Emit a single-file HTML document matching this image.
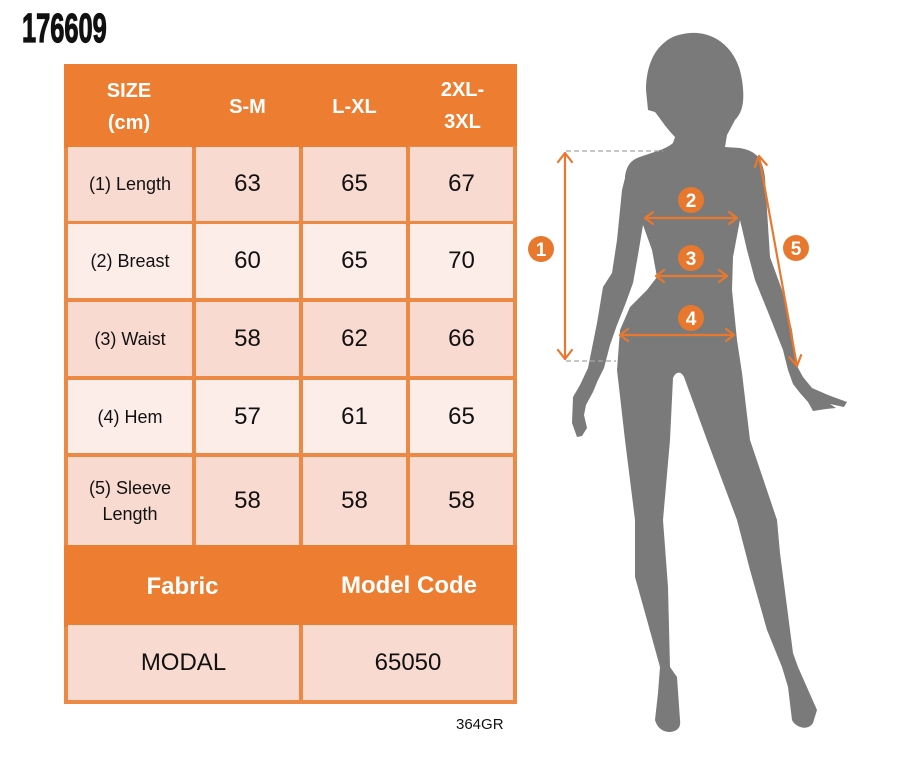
<!DOCTYPE html>
<html>
<head>
<meta charset="utf-8">
<style>
  html,body{margin:0;padding:0;background:#fff;}
  body{width:916px;height:774px;position:relative;overflow:hidden;font-family:"Liberation Sans",Arial,sans-serif;}
  .abs{position:absolute;}
  .title{position:absolute;left:22px;top:4px;font-size:41px;font-weight:bold;color:#111;transform:scaleX(0.62);transform-origin:0 0;letter-spacing:0;line-height:48px;-webkit-text-stroke:1.2px #111;}
  .grid{position:absolute;left:64px;top:64px;width:453px;height:640px;background:#EC8A45;}
  .cell{position:absolute;display:flex;align-items:center;justify-content:center;text-align:center;color:#111;}
  .hd{background:#ED7D31;color:#fff;font-weight:bold;}
  .dk{background:#F8DAD0;}
  .lt{background:#FCEDE8;}
  .lbl{font-size:18px;line-height:26px;}
  .num{font-size:24px;}
</style>
</head>
<body>
<div class="title">176609</div>

<div class="grid"></div>
<!-- header -->
<div class="cell hd" style="left:64px;top:64px;width:453px;height:82px;"></div>
<div class="cell hd" style="left:64px;top:66px;width:130px;height:82px;font-size:20px;line-height:32px;">SIZE<br>(cm)</div>
<div class="cell hd" style="left:194px;top:66px;width:107px;height:82px;font-size:20px;">S-M</div>
<div class="cell hd" style="left:301px;top:66px;width:107px;height:82px;font-size:20px;">L-XL</div>
<div class="cell hd" style="left:408px;top:66px;width:109px;height:80px;font-size:20px;line-height:32px;">2XL-<br>3XL</div>

<!-- row1 -->
<div class="cell dk lbl" style="left:68px;top:147px;width:124px;height:74px;">(1) Length</div>
<div class="cell dk num" style="left:196px;top:147px;width:103px;height:74px;">63</div>
<div class="cell dk num" style="left:303px;top:147px;width:103px;height:74px;">65</div>
<div class="cell dk num" style="left:410px;top:147px;width:103px;height:74px;">67</div>
<!-- row2 -->
<div class="cell lt lbl" style="left:68px;top:224px;width:124px;height:74px;">(2) Breast</div>
<div class="cell lt num" style="left:196px;top:224px;width:103px;height:74px;">60</div>
<div class="cell lt num" style="left:303px;top:224px;width:103px;height:74px;">65</div>
<div class="cell lt num" style="left:410px;top:224px;width:103px;height:74px;">70</div>
<!-- row3 -->
<div class="cell dk lbl" style="left:68px;top:302px;width:124px;height:74px;">(3) Waist</div>
<div class="cell dk num" style="left:196px;top:302px;width:103px;height:74px;">58</div>
<div class="cell dk num" style="left:303px;top:302px;width:103px;height:74px;">62</div>
<div class="cell dk num" style="left:410px;top:302px;width:103px;height:74px;">66</div>
<!-- row4 -->
<div class="cell lt lbl" style="left:68px;top:380px;width:124px;height:73px;">(4) Hem</div>
<div class="cell lt num" style="left:196px;top:380px;width:103px;height:73px;">57</div>
<div class="cell lt num" style="left:303px;top:380px;width:103px;height:73px;">61</div>
<div class="cell lt num" style="left:410px;top:380px;width:103px;height:73px;">65</div>
<!-- row5 -->
<div class="cell dk lbl" style="left:68px;top:457px;width:124px;height:88px;">(5) Sleeve<br>Length</div>
<div class="cell dk num" style="left:196px;top:457px;width:103px;height:88px;">58</div>
<div class="cell dk num" style="left:303px;top:457px;width:103px;height:88px;">58</div>
<div class="cell dk num" style="left:410px;top:457px;width:103px;height:88px;">58</div>

<!-- fabric header -->
<div class="cell hd" style="left:64px;top:545px;width:453px;height:80px;"></div>
<div class="cell hd" style="left:64px;top:547px;width:237px;height:80px;font-size:24px;">Fabric</div>
<div class="cell hd" style="left:301px;top:547px;width:216px;height:78px;font-size:24px;">Model Code</div>
<!-- fabric row -->
<div class="cell dk num" style="left:68px;top:625px;width:231px;height:75px;">MODAL</div>
<div class="cell dk num" style="left:303px;top:625px;width:210px;height:75px;">65050</div>

<div class="abs" style="left:456px;top:716px;font-size:15px;color:#111;">364GR</div>

<svg class="abs" style="left:0;top:0;" width="916" height="774" viewBox="0 0 916 774">
  <g fill="#7a7a7a">
    <path d="M 690,33 C 716,31 738,50 742,80 C 745,100 743,112 735,120 L 727,135 L 724,142 L 690,143 L 675,137 C 666,128 660,118 655,112 L 648,110 L 646,90 C 646,70 652,52 665,42 C 672,36 680,34 690,33 Z"/>
    <path d="M 675,137 L 673,143 C 665,150 650,153 640,157 C 630,160 626,167 625,178 L 643,225 L 652,250 L 657,277 L 647,290 L 630,307 L 620,330 L 617,370 L 625,440 L 635,520 L 635,577 L 647,620 L 660,667 L 658,693 L 655,720 C 658,730 665,732 670,732 C 678,731 681,727 680,720 L 677,677 L 670,667 L 668,587 L 663,520 L 670,440 L 673,378 C 676,371 681,371 684,377 L 707,440 L 737,520 L 750,570 L 767,630 L 782,667 L 788,687 L 792,720 C 796,728 808,731 813,723 L 817,710 L 798,667 L 793,653 L 780,553 L 777,520 L 750,440 L 742,373 L 737,340 L 732,290 L 733,257 L 740,220 L 750,195 L 762,165 C 758,153 750,150 740,148 L 725,147 L 727,135 Z"/>
    <path d="M 640,157 C 630,160 626,167 625,178 L 622,190 L 617,240 L 612,273 L 603,287 L 597,323 L 588,368 L 580,385 L 573,397 L 572,423 L 577,437 L 582,436 L 587,428 L 584,415 L 586,405 L 593,392 L 598,380 L 604,368 L 610,345 L 617,325 L 625,305 L 633,283 L 638,255 L 643,225 L 645,190 Z"/>
    <path d="M 745,150 C 757,152 763,160 765,178 L 770,257 L 782,290 L 792,330 L 797,366 L 803,377 L 812,388 L 828,395 L 847,402 L 844,407 L 830,404 L 836,408 L 826,409 L 813,411 L 808,402 L 800,393 L 793,384 L 788,370 L 783,350 L 770,317 L 755,280 L 747,250 L 740,220 L 740,180 Z"/>
  </g>
  <!-- dashed guide lines -->
  <g stroke="#a8a8a8" stroke-width="1.2" stroke-dasharray="5,3" fill="none">
    <line x1="566" y1="151" x2="663" y2="151"/>
    <line x1="566" y1="361" x2="616" y2="361"/>
  </g>
  <!-- arrows -->
  <g stroke="#E8782E" stroke-width="2.2" fill="none" stroke-linecap="round" stroke-linejoin="round">
    <line x1="565" y1="153" x2="565" y2="359"/>
    <polyline points="558,162 565,153 572,162"/>
    <polyline points="558,350 565,359 572,350"/>
    <line x1="645" y1="218" x2="737" y2="218"/>
    <polyline points="653,212 645,218 653,224"/>
    <polyline points="729,212 737,218 729,224"/>
    <line x1="656" y1="276" x2="727" y2="276"/>
    <polyline points="664,270 656,276 664,282"/>
    <polyline points="719,270 727,276 719,282"/>
    <line x1="620" y1="335" x2="734" y2="335"/>
    <polyline points="628,329 620,335 628,341"/>
    <polyline points="726,329 734,335 726,341"/>
    <line x1="759" y1="156" x2="797" y2="366"/>
    <polyline points="754.9,166.9 759,156 766.7,164.8"/>
    <polyline points="789.3,357.3 797,366 801.1,355.1"/>
  </g>
  <!-- numbered circles -->
  <g fill="#E8782E">
    <circle cx="541" cy="249" r="13"/>
    <circle cx="691" cy="200" r="13"/>
    <circle cx="691" cy="258" r="13"/>
    <circle cx="691" cy="318" r="13"/>
    <circle cx="796" cy="248" r="13"/>
  </g>
  <g fill="#fff" font-family="Liberation Sans, Arial, sans-serif" font-size="19" font-weight="bold" text-anchor="middle">
    <text x="541" y="256">1</text>
    <text x="691" y="207">2</text>
    <text x="691" y="265">3</text>
    <text x="691" y="325">4</text>
    <text x="796" y="255">5</text>
  </g>
</svg>
</body>
</html>
